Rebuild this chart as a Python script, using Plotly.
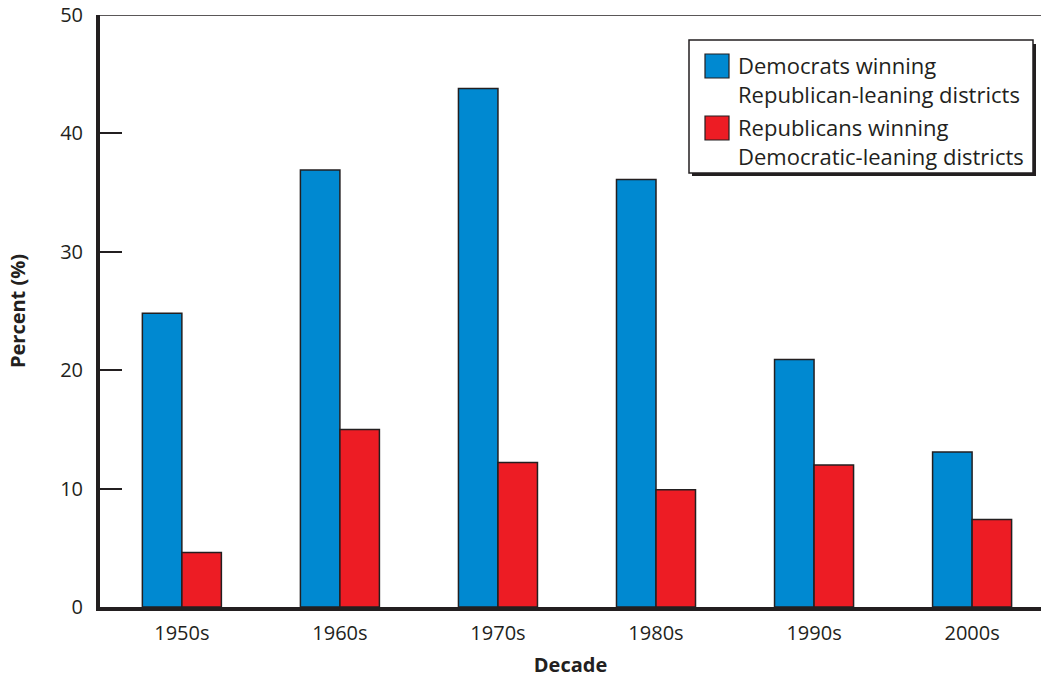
import plotly.graph_objects as go

decades = ["1950s", "1960s", "1970s", "1980s", "1990s", "2000s"]
dem_in_rep = [24.8, 36.9, 43.8, 36.1, 20.9, 13.1]
rep_in_dem = [4.6, 15.0, 12.2, 9.9, 12.0, 7.4]
y_ticks = [0, 10, 20, 30, 40, 50]
series_names = [
    "Democrats winning<br>Republican-leaning districts",
    "Republicans winning<br>Democratic-leaning districts",
]
series_colors = ["#0089d1", "#ed1c24"]

INK = "#231f20"
FONT = "Open Sans, Noto Sans, sans-serif"

W, H = 1041, 679
ML, MR, MT, MB = 100, 0, 15, 72
PW, PH = W - ML - MR, H - MT - MB


def px_x(p):
    return (p - ML) / PW


def px_y(p):
    return (H - MB - p) / PH


fig = go.Figure()
for vals, name, col in zip([dem_in_rep, rep_in_dem], series_names, series_colors):
    fig.add_trace(go.Bar(
        x=decades, y=vals, name=name,
        marker=dict(color=col, line=dict(color=INK, width=1.5)),
    ))

# legend box with drop shadow
fig.add_shape(type="rect", xref="paper", yref="paper",
              x0=px_x(692), x1=px_x(1036), y0=px_y(176), y1=px_y(44),
              fillcolor=INK, line=dict(width=0), layer="above")
fig.add_shape(type="rect", xref="paper", yref="paper",
              x0=px_x(689), x1=px_x(1033), y0=px_y(173), y1=px_y(40),
              fillcolor="white", line=dict(color=INK, width=1.5), layer="above")
swatch_tops = [54, 116]
text_centers = [80, 141]
for top, mid, name, col in zip(swatch_tops, text_centers, series_names, series_colors):
    fig.add_shape(type="rect", xref="paper", yref="paper",
                  x0=px_x(705), x1=px_x(729), y0=px_y(top + 24), y1=px_y(top),
                  fillcolor=col, line=dict(color=INK, width=1.2), layer="above")
    fig.add_annotation(xref="paper", yref="paper", x=px_x(736), y=px_y(mid),
                       xanchor="left", yanchor="middle", align="left",
                       text=name, showarrow=False,
                       font=dict(size=22, color=INK, family=FONT))

# top frame line
fig.add_shape(type="line", xref="paper", yref="y", x0=0, x1=1, y0=50, y1=50,
              line=dict(color=INK, width=1.5))

fig.update_layout(
    width=W, height=H,
    margin=dict(l=ML, r=MR, t=MT, b=MB),
    paper_bgcolor="white", plot_bgcolor="white",
    barmode="group", bargap=0.5, bargroupgap=0,
    font=dict(family=FONT, color=INK, size=20),
    showlegend=False,
    xaxis=dict(
        range=[-0.518, 5.436], showgrid=False, ticks="",
        showline=True, linewidth=4, linecolor=INK,
        tickfont=dict(size=20), ticklabelstandoff=5,
        title=dict(text="<b>Decade</b>", font=dict(size=20), standoff=14),
    ),
    yaxis=dict(
        range=[0, 50], tickvals=y_ticks, showgrid=False, zeroline=False,
        ticks="inside", ticklen=22, tickwidth=1.5, tickcolor=INK,
        showline=True, linewidth=4, linecolor=INK,
        tickfont=dict(size=20), ticklabelstandoff=9,
        title=dict(text="<b>Percent (%)</b>", font=dict(size=20), standoff=30),
    ),
)

fig.write_html("out.html")
